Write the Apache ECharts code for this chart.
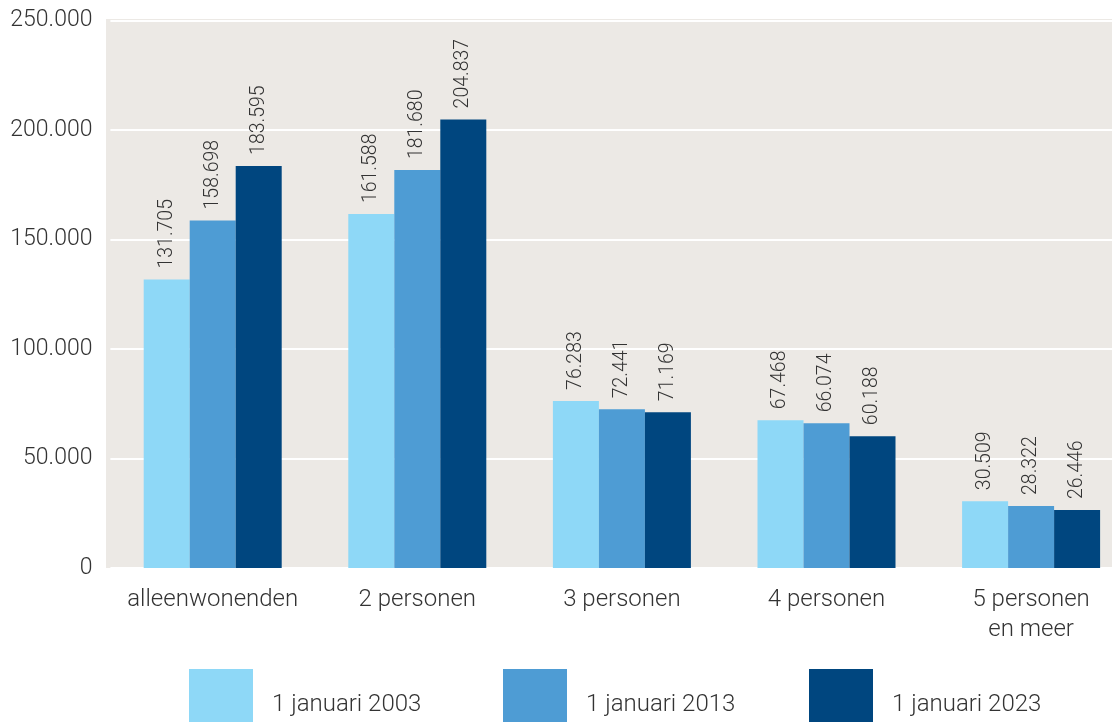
<!DOCTYPE html>
<html><head><meta charset="utf-8">
<script src="https://cdn.jsdelivr.net/npm/echarts@6/dist/echarts.min.js"></script>
<style>html,body{margin:0;padding:0;background:#fff;overflow:hidden;width:1112px;height:722px}#c{width:1134px;height:722px}</style>
</head><body><div id="c"></div>
<script>
const categories = ['alleenwonenden', '2 personen', '3 personen', '4 personen', '5 personen\nen meer'];
const seriesNames = ['1 januari 2003', '1 januari 2013', '1 januari 2023'];
const values2003 = [131705, 161588, 76283, 67468, 30509];
const values2013 = [158698, 181680, 72441, 66074, 28322];
const values2023 = [183595, 204837, 71169, 60188, 26446];
const yTicks = [0, 50000, 100000, 150000, 200000, 250000];
const colors = ['#8ED8F7', '#4E9CD4', '#00467F'];
const legendLeft = [189, 503, 809];

const FONT = 'Roboto';
const TXT = '#333333';
const W = 300;
function nl(v){ return String(v).replace(/\B(?=(\d{3})+(?!\d))/g, '.'); }

const chart = echarts.init(document.getElementById('c'), null, {renderer:'canvas'});
const allVals = [values2003, values2013, values2023];
chart.setOption({
  animation:false,
  backgroundColor:'#fff',
  textStyle:{fontFamily:FONT},
  graphic:{elements:[{type:'rect', z:-100, silent:true, shape:{x:106, y:19, width:1028, height:549}, style:{fill:'#ECE9E5'}}]},
  grid:{left:110.4, top:20.5, width:1023, height:547.5, containLabel:false},
  legend: seriesNames.map((n,i)=>({
    left:legendLeft[i], top:669, padding:0, itemWidth:64, itemHeight:72, icon:'rect',
    data:[n],
    textStyle:{fontFamily:FONT, fontSize:24, fontWeight:W, color:TXT, padding:[0,0,0,14]}
  })),
  xAxis:{
    type:'category', data:categories,
    axisLine:{show:false}, axisTick:{show:false},
    axisLabel:{interval:0, fontFamily:FONT, fontSize:24, fontWeight:W, color:TXT, margin:17, lineHeight:30}
  },
  yAxis:{
    type:'value', min:yTicks[0], max:yTicks[yTicks.length-1], interval:yTicks[1]-yTicks[0],
    axisLine:{show:false}, axisTick:{show:false},
    splitLine:{lineStyle:{color:'#ffffff', width:2}},
    axisLabel:{fontFamily:FONT, fontSize:23, fontWeight:W, color:TXT, margin:18, formatter:v=>nl(v)}
  },
  series: allVals.map((vals,i)=>({
    name:seriesNames[i], type:'bar', data:vals, barWidth:46, barGap:'0%',
    itemStyle:{color:colors[i]},
    label:{show:true, position:'top', rotate:90, align:'left', verticalAlign:'middle', distance:8, offset:[3,0],
      fontFamily:FONT, fontSize:19.5, fontWeight:W, color:TXT, formatter:p=>nl(p.value)}
  }))
});
</script></body></html>
